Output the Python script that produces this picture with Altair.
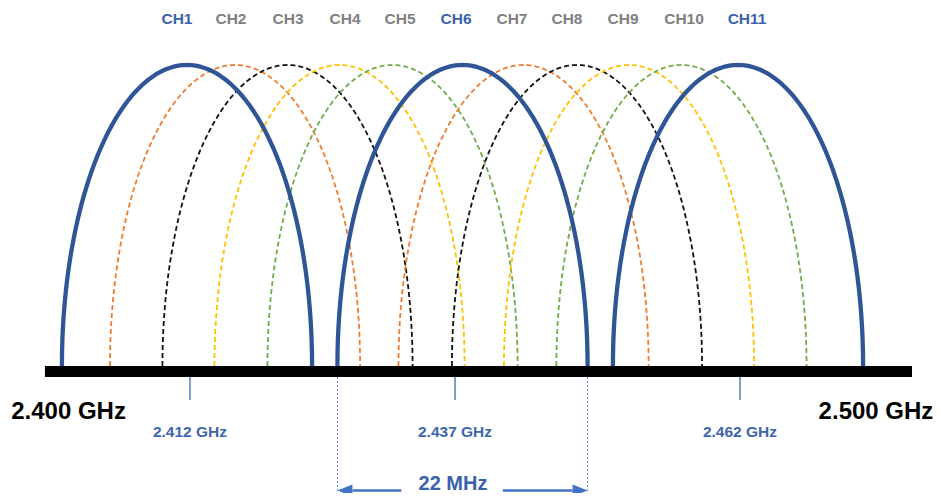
import altair as alt
import numpy as np
import pandas as pd

# ---------------- data (x in MHz, y in arc-height units) ----------------
channels = ["CH1", "CH2", "CH3", "CH4", "CH5", "CH6", "CH7", "CH8", "CH9", "CH10", "CH11"]
arc_centers = [2412.0, 2416.36, 2421.12, 2425.84, 2430.65, 2437.0,
               2442.54, 2447.39, 2452.11, 2456.87, 2462.0]
channel_group = ["non-overlap", "g2", "g3", "g4", "g5", "non-overlap",
                 "g2", "g3", "g4", "g5", "non-overlap"]
label_pos = [2411.09, 2415.99, 2421.17, 2426.34, 2431.33, 2436.41,
             2441.49, 2446.48, 2451.57, 2457.10, 2462.82]
half_width = 11.35          # half of the drawn channel width (MHz)

tick_freqs = [2412.27, 2436.32, 2462.18]
tick_labels = ["2.412 GHz", "2.437 GHz", "2.462 GHz"]

band_edges = [2399.11, 2477.79]
band_labels = ["2.400 GHz", "2.500 GHz"]
band_label_pos = [2401.25, 2474.52]

width_label = "22 MHz"
width_label_pos = 2436.14
width_channel = 5  # index of CH6, the channel whose width is marked

FONT = "Liberation Sans, Arial, sans-serif"

# ---------------- derived tables ----------------
t = np.linspace(0, np.pi, 181)
rows = []
for ch, c, g in zip(channels, arc_centers, channel_group):
    for tt in t:
        rows.append({"ch": ch, "group": g, "x": c + half_width * np.cos(tt), "y": np.sin(tt)})
arcs = pd.DataFrame(rows)

xs = alt.Scale(domain=[2395.757, 2479.695], nice=False, zero=False)
ys = alt.Scale(domain=[-0.42193, 1.18937], nice=False, zero=False)

color = alt.Color("group:N", legend=None,
                  scale=alt.Scale(domain=["non-overlap", "g2", "g3", "g4", "g5"],
                                  range=["#2F5597", "#ED7D31", "#111111", "#FFC000", "#70AD47"]))

dashed = alt.Chart(arcs[arcs.group != "non-overlap"]).mark_line(
    strokeWidth=1.8, strokeDash=[5, 3]).encode(
    x=alt.X("x:Q", scale=xs, axis=None),
    y=alt.Y("y:Q", scale=ys, axis=None),
    detail="ch:N", color=color)

solid = alt.Chart(arcs[arcs.group == "non-overlap"]).mark_line(
    strokeWidth=4.3).encode(
    x=alt.X("x:Q", scale=xs, axis=None),
    y=alt.Y("y:Q", scale=ys, axis=None),
    detail="ch:N", color=color)

base_df = pd.DataFrame({"x": [band_edges[0]], "x2": [band_edges[1]], "y": [-0.0183]})
baseline = alt.Chart(base_df).mark_rule(color="black", strokeWidth=11, strokeCap="butt").encode(
    x=alt.X("x:Q", scale=xs, axis=None), x2="x2:Q",
    y=alt.Y("y:Q", scale=ys, axis=None))

tick_df = pd.DataFrame({"x": tick_freqs, "label": tick_labels})
ticks = alt.Chart(tick_df).mark_rule(color="#4A72B8", strokeWidth=1.4).encode(
    x=alt.X("x:Q", scale=xs, axis=None),
    y=alt.Y("y:Q", scale=ys, axis=None), y2="y2:Q"
).transform_calculate(y="-0.0365", y2="-0.113")

tick_text = alt.Chart(tick_df).mark_text(
    font=FONT, fontSize=15.5, fontWeight="bold", color="#3E66AE",
    align="center", baseline="middle").encode(
    x=alt.X("x:Q", scale=xs, axis=None),
    y=alt.Y("y:Q", scale=ys, axis=None), text="label:N"
).transform_calculate(y="-0.2193")

band_df = pd.DataFrame({"x": band_label_pos, "label": band_labels})
band_text = alt.Chart(band_df).mark_text(
    font=FONT, fontSize=24, fontWeight="bold",
    color="#000000", align="center", baseline="middle").encode(
    x=alt.X("x:Q", scale=xs, axis=None),
    y=alt.Y("y:Q", scale=ys, axis=None), text="label:N"
).transform_calculate(y="-0.1528")

ch_df = pd.DataFrame({"x": label_pos, "label": channels, "group": channel_group})
ch_text = alt.Chart(ch_df).mark_text(
    font=FONT, fontSize=15.5, fontWeight="bold", align="center", baseline="middle").encode(
    x=alt.X("x:Q", scale=xs, axis=None),
    y=alt.Y("y:Q", scale=ys, axis=None), text="label:N",
    color=alt.Color("group:N", legend=None,
                    scale=alt.Scale(domain=["non-overlap", "g2", "g3", "g4", "g5"],
                                    range=["#3A62AB", "#808080", "#808080", "#808080", "#808080"]))
).transform_calculate(y="1.1528")

c6 = arc_centers[width_channel]
edge_df = pd.DataFrame({"x": [c6 - half_width, c6 + half_width]})
edges = alt.Chart(edge_df).mark_rule(color="#5F88D2", strokeWidth=1, strokeDash=[2, 2]).encode(
    x=alt.X("x:Q", scale=xs, axis=None),
    y=alt.Y("y:Q", scale=ys, axis=None), y2="y2:Q"
).transform_calculate(y="-0.0365", y2="-0.4186")

shaft_df = pd.DataFrame({"x": [c6 - half_width + 1.36, 2437.0 + 3.66],
                         "x2": [c6 - half_width + 5.8, c6 + half_width - 1.36]})
shafts = alt.Chart(shaft_df).mark_rule(color="#4472C4", strokeWidth=2.6).encode(
    x=alt.X("x:Q", scale=xs, axis=None), x2="x2:Q",
    y=alt.Y("y:Q", scale=ys, axis=None)
).transform_calculate(y="-0.4136")

head_l = alt.Chart(pd.DataFrame({"x": [c6 - half_width]})).mark_point(
    shape="M 0 0 L 2 -0.8 L 2 0.8 Z", size=225, filled=True, opacity=1,
    color="#4472C4", strokeWidth=0).encode(
    x=alt.X("x:Q", scale=xs, axis=None),
    y=alt.Y("y:Q", scale=ys, axis=None)
).transform_calculate(y="-0.4136")

head_r = alt.Chart(pd.DataFrame({"x": [c6 + half_width]})).mark_point(
    shape="M 0 0 L -2 -0.8 L -2 0.8 Z", size=225, filled=True, opacity=1,
    color="#4472C4", strokeWidth=0).encode(
    x=alt.X("x:Q", scale=xs, axis=None),
    y=alt.Y("y:Q", scale=ys, axis=None)
).transform_calculate(y="-0.4136")

width_text = alt.Chart(pd.DataFrame({"x": [width_label_pos], "label": [width_label]})).mark_text(
    font=FONT, fontSize=20, fontWeight="bold", color="#3A62AB",
    align="center", baseline="middle").encode(
    x=alt.X("x:Q", scale=xs, axis=None),
    y=alt.Y("y:Q", scale=ys, axis=None), text="label:N"
).transform_calculate(y="-0.393")

chart = alt.layer(
    dashed, solid, baseline, ticks, edges, shafts, head_l, head_r,
    tick_text, band_text, ch_text, width_text
).resolve_scale(color="independent").properties(
    width=925, height=485, padding=0,
    autosize=alt.AutoSizeParams(type="none"),
    background="white"
).configure_view(stroke=None)

chart.save("out.html", embed_options={"renderer": "svg", "actions": False})
